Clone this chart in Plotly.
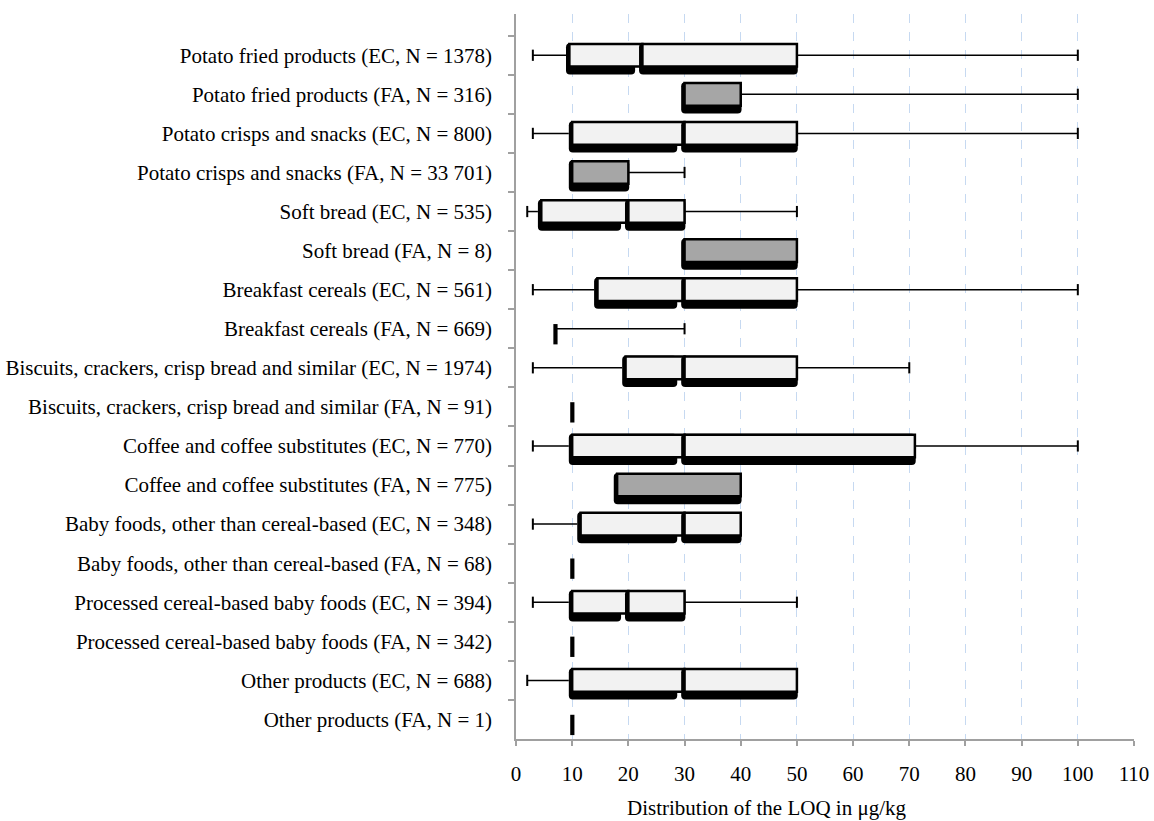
import plotly.graph_objects as go

categories = [
    "Potato fried products (EC, N = 1378)",
    "Potato fried products (FA, N = 316)",
    "Potato crisps and snacks (EC, N = 800)",
    "Potato crisps and snacks (FA, N = 33 701)",
    "Soft bread (EC, N = 535)",
    "Soft bread (FA, N = 8)",
    "Breakfast cereals (EC, N = 561)",
    "Breakfast cereals (FA, N = 669)",
    "Biscuits, crackers, crisp bread and similar (EC, N = 1974)",
    "Biscuits, crackers, crisp bread and similar (FA, N = 91)",
    "Coffee and coffee substitutes (EC, N = 770)",
    "Coffee and coffee substitutes (FA, N = 775)",
    "Baby foods, other than cereal-based (EC, N = 348)",
    "Baby foods, other than cereal-based (FA, N = 68)",
    "Processed cereal-based baby foods (EC, N = 394)",
    "Processed cereal-based baby foods (FA, N = 342)",
    "Other products (EC, N = 688)",
    "Other products (FA, N = 1)",
]
whisker_low = [3, None, 3, None, 2, None, 3, None, 3, None, 3, None, 3, None, 3, None, 2, None]
q1 = [9.5, 30, 10, 10, 4.5, 30, 14.5, 7, 19.5, 10, 10, 18, 11.5, 10, 10, 10, 10, 10]
median = [22.5, 30, 30, 10, 20, 30, 30, 7, 30, 10, 30, 18, 30, 10, 20, 10, 30, 10]
q3 = [50, 40, 50, 20, 30, 50, 50, 7, 50, 10, 71, 40, 40, 10, 30, 10, 50, 10]
whisker_high = [100, 100, 100, 30, 50, None, 100, 30, 70, None, 100, None, None, None, 50, None, None, None]
source = ["EC" if "(EC" in c else "FA" for c in categories]

fill_colors = {"EC": "#f2f2f2", "FA": "#a6a6a6"}

L_EXT = 0.6
R_EXT = 0.15
GAP = 1.3

lo_sh = dict(y=[], base=[], x=[])
lo_bx = dict(y=[], base=[], x=[], col=[])
up_sh = dict(y=[], base=[], x=[])
up_bx = dict(y=[], base=[], x=[], col=[])
mk = dict(y=[], base=[], x=[])

for c, a, m, b, s in zip(categories, q1, median, q3, source):
    if a == b:
        mk["y"].append(c)
        mk["base"].append(a - 0.35)
        mk["x"].append(0.75)
        continue
    if m > a:
        lo_sh["y"].append(c)
        lo_sh["base"].append(a - L_EXT)
        lo_sh["x"].append((m - GAP) - (a - L_EXT))
        lo_bx["y"].append(c)
        lo_bx["base"].append(a)
        lo_bx["x"].append(m - a)
        lo_bx["col"].append(fill_colors[s])
    if b > m:
        up_sh["y"].append(c)
        up_sh["base"].append(m - L_EXT)
        up_sh["x"].append((b + R_EXT) - (m - L_EXT))
        up_bx["y"].append(c)
        up_bx["base"].append(m)
        up_bx["x"].append(b - m)
        up_bx["col"].append(fill_colors[s])

SH_W, SH_OFF = 0.8, -0.31
BX_W, BX_OFF = 0.58, -0.29

fig = go.Figure()


def shadow(d):
    fig.add_trace(go.Bar(
        y=d["y"], x=d["x"], base=d["base"], orientation="h",
        width=SH_W, offset=SH_OFF,
        marker=dict(color="black", line=dict(width=0), cornerradius=4),
        hoverinfo="skip", showlegend=False,
    ))


def boxes(d):
    fig.add_trace(go.Bar(
        y=d["y"], x=d["x"], base=d["base"], orientation="h",
        width=BX_W, offset=BX_OFF,
        marker=dict(color=d["col"], line=dict(color="black", width=2.5)),
        hoverinfo="skip", showlegend=False,
    ))


shadow(lo_sh)
boxes(lo_bx)
shadow(up_sh)
boxes(up_bx)

fig.add_trace(go.Bar(
    y=mk["y"], x=mk["x"], base=mk["base"], orientation="h",
    width=0.52, offset=-0.12,
    marker=dict(color="black", line=dict(width=0)),
    hoverinfo="skip", showlegend=False,
))

# whiskers
wx, wy, capx, capy = [], [], [], []
for c, lo, a, b, hi in zip(categories, whisker_low, q1, q3, whisker_high):
    if lo is not None:
        wx += [lo, a - L_EXT, None]
        wy += [c, c, None]
        capx.append(lo)
        capy.append(c)
    if hi is not None:
        wx += [b, hi, None]
        wy += [c, c, None]
        capx.append(hi)
        capy.append(c)

fig.add_trace(go.Scatter(
    x=wx, y=wy, mode="lines",
    line=dict(color="black", width=1.5),
    hoverinfo="skip", showlegend=False,
))
fig.add_trace(go.Scatter(
    x=capx, y=capy, mode="markers",
    marker=dict(symbol="line-ns", size=8, line=dict(color="black", width=2)),
    hoverinfo="skip", showlegend=False,
))

FONT = "Liberation Serif"
fig.update_layout(
    width=1154, height=821,
    margin=dict(l=516, r=20, t=14, b=82),
    barmode="overlay",
    plot_bgcolor="white", paper_bgcolor="white",
    font=dict(family=FONT, size=21, color="black"),
    xaxis=dict(
        range=[0, 110], dtick=10, tick0=0, automargin=False,
        showgrid=True, gridcolor="#c6d9f1", griddash="dash", gridwidth=1,
        zeroline=False,
        showline=True, linecolor="#a0a0a0", linewidth=1.5,
        ticks="outside", ticklen=5, tickcolor="#a0a0a0", tickwidth=1.5,
        ticklabelstandoff=10,
    ),
    yaxis=dict(
        type="category", categoryorder="array", categoryarray=categories,
        autorange="reversed", automargin=False,
        showgrid=False, zeroline=False,
        showline=True, linecolor="#a0a0a0", linewidth=1.5,
        ticks="outside", ticklen=6, tickcolor="#a0a0a0", tickwidth=1.5,
        tickson="boundaries", ticklabelstandoff=18,
    ),
    annotations=[dict(
        text="Distribution of the LOQ in μg/kg",
        xref="paper", yref="paper", x=0.406, y=-0.095,
        xanchor="center", yanchor="middle", showarrow=False,
        font=dict(family=FONT, size=21, color="black"),
    )],
)

fig.write_html("out.html")
